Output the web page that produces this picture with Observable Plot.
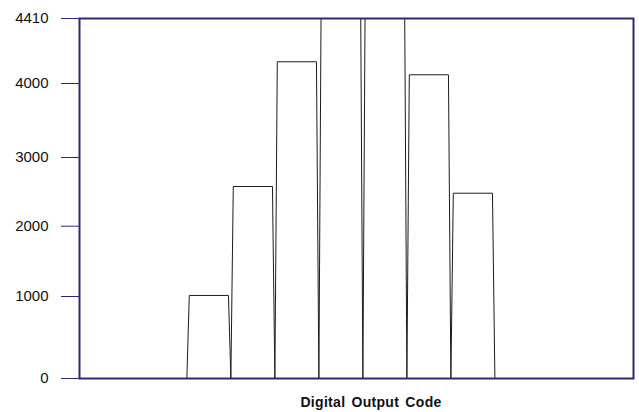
<!DOCTYPE html>
<html>
<head>
<meta charset="utf-8">
<script src="https://cdn.jsdelivr.net/npm/d3@7"></script>
<script src="https://cdn.jsdelivr.net/npm/@observablehq/plot@0.6"></script>
<style>
  html, body { margin: 0; padding: 0; background: #fff; }
  #chart svg { display: block; }
</style>
</head>
<body>
<div id="chart"></div>
<script>
// Histogram of digital output codes (code offsets relative to the first populated code)
const codes = [0, 1, 2, 3, 4, 5, 6];
const counts = [1015, 2578, 4137, 4700, 4700, 4055, 2480];
const yTicks = [0, 1000, 2000, 3000, 4000, 4410];
// axis tick spacing in the original is uneven; reproduce it with a piecewise scale
const yTickPixels = [378, 296, 225.7, 157, 83, 18];
const xLabel = "Digital Output Code";

const navy = "#2c2b70";
const inset = 0.055; // top-edge slant of each bin outline (code units)

// each bin drawn as an outline: bottom corners on code boundaries, top slightly inset
const outline = codes.flatMap((c, i) => [
  {code: c, x: c - 0.5, y: 0},
  {code: c, x: c - 0.5 + inset, y: counts[i]},
  {code: c, x: c + 0.5 - inset, y: counts[i]},
  {code: c, x: c + 0.5, y: 0}
]);

const chart = Plot.plot({
  width: 639,
  height: 412,
  marginLeft: 79,
  marginRight: 6,
  marginTop: 18,
  marginBottom: 34,
  style: {fontFamily: "'Liberation Sans', Arial, sans-serif", fontSize: "15px", background: "#fff", color: "#000"},
  x: {type: "linear", domain: [-2.94, 9.65], axis: null},
  y: {type: "linear", domain: yTicks, range: yTickPixels, axis: null},
  marks: [
    Plot.line(outline, {x: "x", y: "y", z: "code", stroke: "#1c1c1c", strokeWidth: 1, clip: true, curve: "linear"}),
    Plot.axisY({ticks: yTicks, tickSize: 18, tickPadding: 13, stroke: navy, fill: "#111", fontSize: 15, label: null, tickFormat: d => String(d)}),
    Plot.frame({stroke: navy, strokeWidth: 2}),
    Plot.text([xLabel], {frameAnchor: "bottom", dx: 14.5, dy: 28, lineAnchor: "bottom", textAnchor: "middle", fontWeight: "bold", fontSize: 14, fill: "#111"})
  ]
});

d3.select(chart).selectAll("text").filter(function () { return this.textContent === xLabel; })
  .attr("letter-spacing", "0.3px").attr("word-spacing", "2px");

document.getElementById("chart").appendChild(chart);
</script>
</body>
</html>
